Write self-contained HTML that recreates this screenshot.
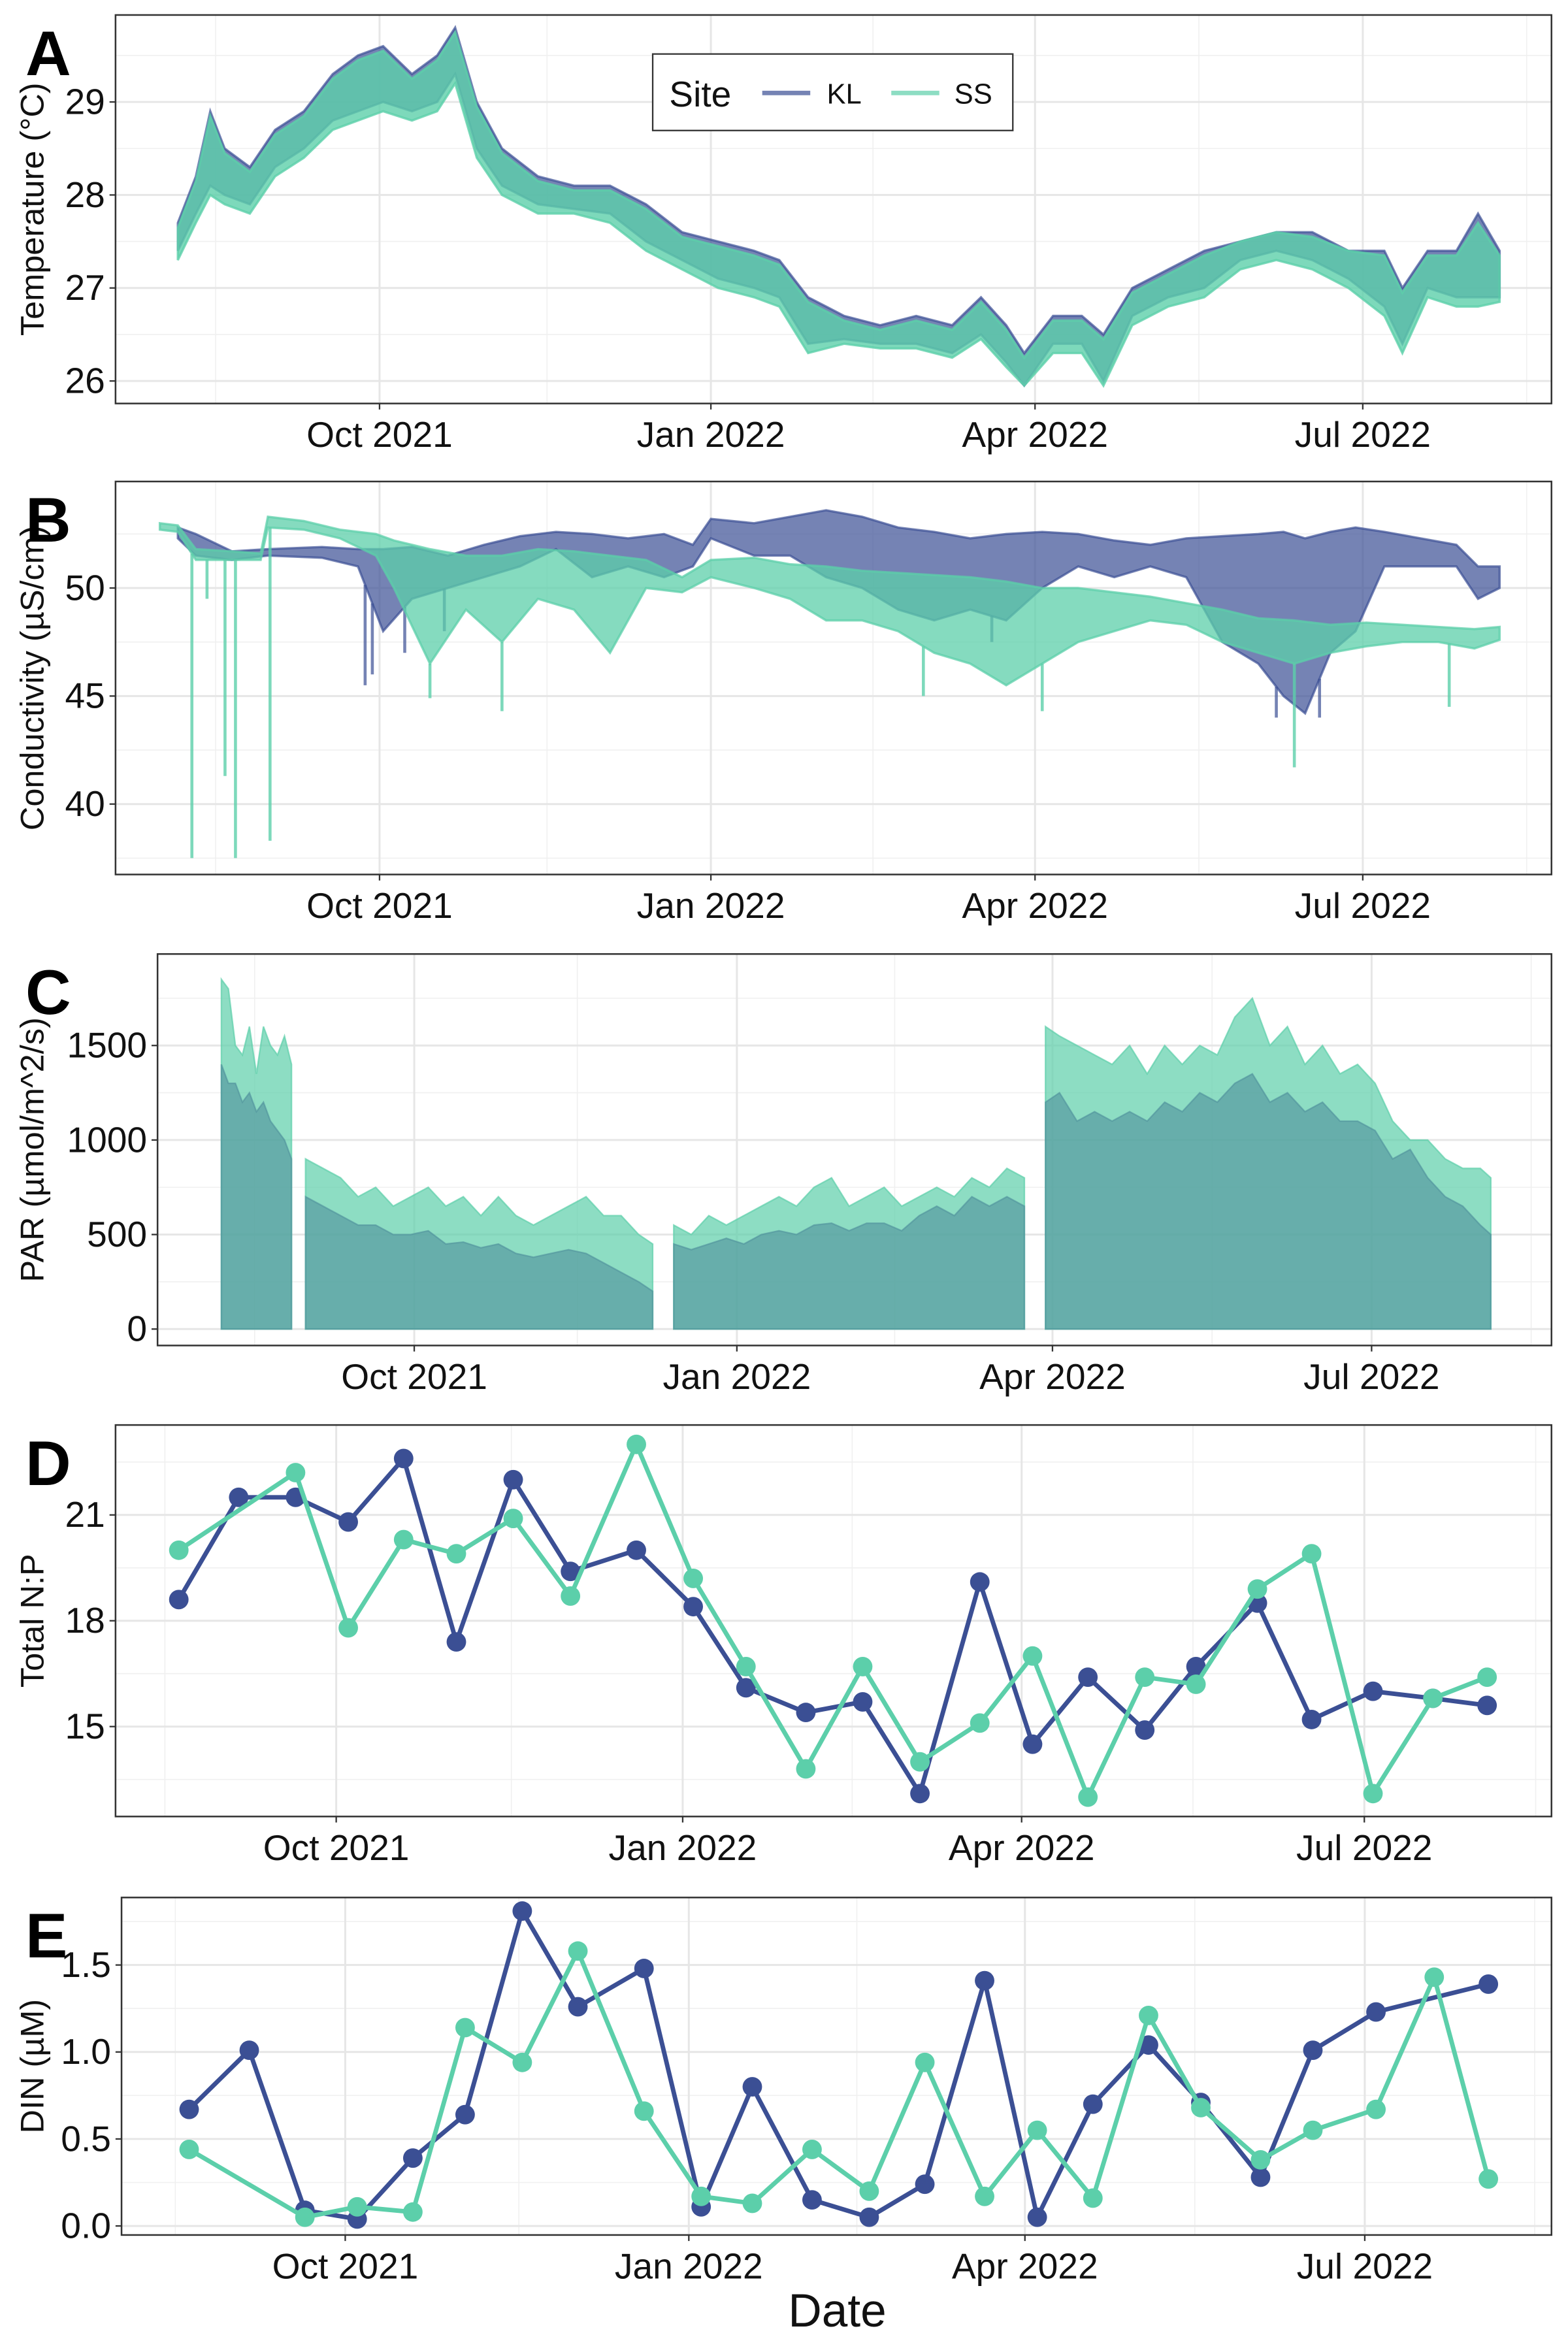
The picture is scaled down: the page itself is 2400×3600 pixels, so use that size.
<!DOCTYPE html>
<html><head><meta charset="utf-8">
<style>
html,body{margin:0;padding:0;background:#fff;}
svg{display:block;}
text{font-family:"Liberation Sans",Arial,sans-serif;}
</style></head>
<body>
<svg id="fig" width="2400" height="3600" viewBox="0 0 1045 1568" preserveAspectRatio="none" xmlns="http://www.w3.org/2000/svg"></svg>
<script>
// ===== Data (days since 2021-08-01) =====
const tempDays = [5,10,14,18,25,32,40,48,55,62,70,77,82,88,95,105,115,125,135,145,155,165,172,180,190,200,210,220,228,235,240,248,256,262,270,280,290,300,310,320,330,340,345,352,360,366,372];
const tempKLHi = [27.7,28.2,28.9,28.5,28.3,28.7,28.9,29.3,29.5,29.6,29.3,29.5,29.8,29.0,28.5,28.2,28.1,28.1,27.9,27.6,27.5,27.4,27.3,26.9,26.7,26.6,26.7,26.6,26.9,26.6,26.3,26.7,26.7,26.5,27.0,27.2,27.4,27.5,27.6,27.6,27.4,27.4,27.0,27.4,27.4,27.8,27.4];
const tempKLLo = [27.4,27.8,28.1,28.0,27.9,28.3,28.5,28.8,28.9,29.0,28.9,29.0,29.3,28.5,28.1,27.9,27.85,27.8,27.5,27.3,27.1,27.0,26.9,26.4,26.45,26.4,26.4,26.3,26.5,26.2,25.95,26.4,26.4,26.0,26.7,26.9,27.0,27.3,27.4,27.3,27.1,26.8,26.4,27.0,26.9,26.9,26.9];
const tempSSHi = [27.65,28.15,28.85,28.45,28.25,28.65,28.85,29.25,29.45,29.55,29.25,29.45,29.75,28.95,28.45,28.15,28.05,28.05,27.85,27.55,27.45,27.35,27.25,26.85,26.65,26.55,26.65,26.55,26.85,26.55,26.25,26.65,26.65,26.45,26.95,27.15,27.35,27.5,27.6,27.55,27.4,27.35,26.95,27.35,27.35,27.7,27.35];
const tempSSLo = [27.3,27.7,28.0,27.9,27.8,28.2,28.4,28.7,28.8,28.9,28.8,28.9,29.2,28.4,28.0,27.8,27.8,27.7,27.4,27.2,27.0,26.9,26.8,26.3,26.4,26.35,26.35,26.25,26.45,26.15,25.95,26.3,26.3,25.95,26.6,26.8,26.9,27.2,27.3,27.2,27.0,26.7,26.3,26.9,26.8,26.8,26.85];
const condKLDays = [5,10,20,30,45,55,62,70,80,90,100,110,120,130,140,148,153,165,175,185,195,205,215,225,235,245,255,265,275,285,295,305,312,318,325,332,340,350,360,366,372];
const condKLHi = [52.8,52.5,51.7,51.8,51.9,51.8,51.8,51.9,51.5,52,52.4,52.6,52.5,52.3,52.5,52,53.2,53,53.3,53.6,53.3,52.8,52.6,52.3,52.5,52.6,52.5,52.2,52,52.3,52.4,52.5,52.6,52.3,52.6,52.8,52.6,52.3,52,51,51];
const condKLLo = [52.3,51.5,51.3,51.5,51.4,51.0,48,49.5,50,50.5,51,51.8,50.5,51,50.5,51,52.3,51.5,51.5,50.5,50,49,48.5,49,48.5,50,51,50.5,51,50.5,47.5,46.5,45,44.2,47,48,51,51,51,49.5,50];
const condKLSpikeDays = [57,59,68,79,231,310,322];
const condKLSpikeVals = [45.5,46,47,48,47.5,44,44];
const condSSDays = [0,5,10,20,28,30,40,50,60,65,75,85,95,105,115,125,135,145,153,165,175,185,195,205,215,225,235,245,255,265,275,285,295,305,315,325,335,345,355,365,372];
const condSSHi = [53,52.9,51.8,51.7,51.6,53.3,53.1,52.7,52.5,52.2,51.8,51.5,51.5,51.8,51.7,51.5,51.3,50.5,51.3,51.4,51.1,51,50.8,50.7,50.6,50.5,50.3,50,50,49.8,49.6,49.3,49,48.6,48.5,48.3,48.4,48.3,48.2,48.1,48.2];
const condSSLo = [52.7,52.6,51.3,51.3,51.3,52.8,52.7,52.3,51.5,50,46.5,49,47.5,49.5,49,47,50,49.8,50.5,50,49.5,48.5,48.5,48,47,46.5,45.5,46.5,47.5,48,48.5,48.3,47.5,47,46.5,47,47.3,47.5,47.5,47.2,47.6];
const condSSSpikeDays = [8.9,13.1,18.1,21,30.6,75,95,212,245,315,358];
const condSSSpikeVals = [37.5,49.5,41.3,37.5,38.3,44.9,44.3,45,44.3,41.7,44.5];
const parSegStart = [6,30,135,241];
const parSegEnd = [26,129,235,368];
const parDays = [6,8,10,12,14,16,18,20,22,24,26, 30,35,40,45,50,55,60,65,70,75,80,85,90,95,100,105,110,115,120,125,129, 135,140,145,150,155,160,165,170,175,180,185,190,195,200,205,210,215,220,225,230,235, 241,245,250,255,260,265,270,275,280,285,290,295,300,305,310,315,320,325,330,335,340,345,350,355,360,365,368];
const parSS = [1850,1800,1500,1450,1600,1350,1600,1500,1450,1550,1400, 900,850,800,700,750,650,700,750,650,700,600,700,600,550,600,650,700,600,600,500,450, 550,500,600,550,600,650,700,650,750,800,650,700,750,650,700,750,700,800,750,850,800, 1600,1550,1500,1450,1400,1500,1350,1500,1400,1500,1450,1650,1750,1500,1600,1400,1500,1350,1400,1300,1100,1000,1000,900,850,850,800];
const parKL = [1400,1300,1300,1200,1250,1150,1200,1100,1050,1000,900, 700,650,600,550,550,500,500,520,450,460,430,450,400,380,400,420,400,350,300,250,200, 450,420,450,480,450,500,520,500,550,560,520,560,560,520,600,650,600,700,650,700,650, 1200,1250,1100,1150,1100,1150,1100,1200,1150,1250,1200,1300,1350,1200,1250,1150,1200,1100,1100,1050,900,950,800,700,650,550,500];
const npDaysKL = [19.2,35.1,50.2,64.2,78.9,92.9,108,123.2,140.7,155.8,169.8,185.7,200.8,216,231.9,245.9,260.6,275.7,289.3,305.6,320,336.3,352.2,366.6];
const npKL = [18.6,21.5,21.5,20.8,22.6,17.4,22.0,19.4,20.0,18.4,16.1,15.4,15.7,13.1,19.1,14.5,16.4,14.9,16.7,18.5,15.2,16.0,15.8,15.6];
const npDaysSS = [19.2,50.2,64.2,78.9,92.9,108,123.2,140.7,155.8,169.8,185.7,200.8,216,231.9,245.9,260.6,275.7,289.3,305.6,320,336.3,352.2,366.6];
const npSS = [20.0,22.2,17.8,20.3,19.9,20.9,18.7,23.0,19.2,16.7,13.8,16.7,14.0,15.1,17.0,13.0,16.4,16.2,18.9,19.9,13.1,15.8,16.4];
const dinDaysKL = [19.2,35.3,50.2,64.2,79.1,93.1,108.4,123.3,141,156.3,170,186,201.3,216.2,232.2,246.3,261.2,276.1,290.1,306.1,320.1,337,367.1];
const dinKL = [0.67,1.01,0.09,0.04,0.39,0.64,1.81,1.26,1.48,0.11,0.80,0.15,0.05,0.24,1.41,0.05,0.70,1.04,0.71,0.28,1.01,1.23,1.39];
const dinDaysSS = [19.2,50.2,64.2,79.1,93.1,108.4,123.3,141,156.3,170,186,201.3,216.2,232.2,246.3,261.2,276.1,290.1,306.1,320.1,337,352.6,367.1];
const dinSS = [0.44,0.05,0.11,0.08,1.14,0.94,1.58,0.66,0.17,0.13,0.44,0.20,0.94,0.17,0.55,0.16,1.21,0.68,0.38,0.55,0.67,1.43,0.27];
const monthLabels = ["Oct 2021","Jan 2022","Apr 2022","Jul 2022"];
const monthDays = [61,153,243,334];
const minorDays = [15.5,107.5,198,288.5,379.5];

const NS="http://www.w3.org/2000/svg";
const svg=document.getElementById('fig');
function mk(tag,attrs,parent){const e=document.createElementNS(NS,tag);for(const k in attrs)e.setAttribute(k,attrs[k]);(parent||svg).appendChild(e);return e;}
const KL="#3b4f94", SS="#5ccfaa";

function panel(cfg){
  const g=mk('g',{});
  
  
  const X=d=>cfg.x0+(d-cfg.d0)/(cfg.d1-cfg.d0)*(cfg.x1-cfg.x0);
  const Y=v=>cfg.y1-(v-cfg.v0)/(cfg.v1-cfg.v0)*(cfg.y1-cfg.y0);
  mk('rect',{x:cfg.x0,y:cfg.y0,width:cfg.x1-cfg.x0,height:cfg.y1-cfg.y0,fill:'#fff'},g);
  minorDays.forEach(d=>{const x=X(d);if(x>cfg.x0&&x<cfg.x1)mk('line',{x1:x,x2:x,y1:cfg.y0,y2:cfg.y1,stroke:'#f0f0f0','stroke-width':0.7},g);});
  cfg.yMinor.forEach(v=>{const y=Y(v);if(y>cfg.y0&&y<cfg.y1)mk('line',{x1:cfg.x0,x2:cfg.x1,y1:y,y2:y,stroke:'#f0f0f0','stroke-width':0.7},g);});
  monthDays.forEach(d=>{const x=X(d);mk('line',{x1:x,x2:x,y1:cfg.y0,y2:cfg.y1,stroke:'#e6e6e6','stroke-width':1.3},g);});
  cfg.yTicks.forEach(v=>{const y=Y(v);mk('line',{x1:cfg.x0,x2:cfg.x1,y1:y,y2:y,stroke:'#e6e6e6','stroke-width':1.3},g);});
  const data=mk('g',{},g);
  
  
  cfg.draw(data,X,Y);
  mk('rect',{x:cfg.x0,y:cfg.y0,width:cfg.x1-cfg.x0,height:cfg.y1-cfg.y0,fill:'none',stroke:'#333','stroke-width':1.1},g);
  monthDays.forEach((d,i)=>{const x=X(d);
    mk('line',{x1:x,x2:x,y1:cfg.y1,y2:cfg.y1+4,stroke:'#333','stroke-width':1},g);
    const t=mk('text',{x:x,y:cfg.y1+29,'text-anchor':'middle','font-size':24,fill:'#111'},g);t.textContent=monthLabels[i];
    
    
  });
  cfg.yTicks.forEach((v,i)=>{const y=Y(v);
    mk('line',{x1:cfg.x0-4,x2:cfg.x0,y1:y,y2:y,stroke:'#333','stroke-width':1},g);
    const t=mk('text',{x:cfg.x0-7,y:y+8,'text-anchor':'end','font-size':24,fill:'#111'},g);t.textContent=cfg.yLabels[i];
    
    
  });
  const cy=(cfg.y0+cfg.y1)/2;
  const tt=mk('text',{x:0,y:0,transform:`translate(${cfg.titleX},${cy}) rotate(-90)`,'text-anchor':'middle','font-size':22,fill:'#111'},g);
  tt.textContent=cfg.title;
  
  
  const L=mk('text',{x:17,y:cfg.y0+40,'font-size':42,'font-weight':'bold',fill:'#000'},g);
  L.textContent=cfg.letter;
  
  
}
function band(g,X,Y,days,hi,lo,color,op){
  let p=days.map((d,i)=>X(d)+','+Y(hi[i])).join(' ')+' '+days.map((d,i)=>X(d)+','+Y(lo[i])).reverse().join(' ');
  return mk('polygon',{points:p,fill:color,'fill-opacity':op,stroke:color,'stroke-opacity':op,'stroke-width':1.5},g);
}
function spikes(g,X,Y,days,vals,base,color,op){
  days.forEach((d,i)=>{const e=mk('line',{x1:X(d),x2:X(d),y1:Y(base(d)),y2:Y(vals[i]),stroke:color,'stroke-opacity':op,'stroke-width':2},g);
    
    });
}
function interp(days,vals,d){for(let i=0;i<days.length-1;i++){if(d>=days[i]&&d<=days[i+1]){const t=(d-days[i])/(days[i+1]-days[i]);return vals[i]+t*(vals[i+1]-vals[i]);}}return d<days[0]?vals[0]:vals[vals.length-1];}
function lineSeries(g,X,Y,days,vals,color,name){
  const pl=mk('polyline',{points:days.map((d,i)=>X(d)+','+Y(vals[i])).join(' '),fill:'none',stroke:color,'stroke-width':3,'stroke-linejoin':'round'},g);
  
  
  days.forEach((d,i)=>{const c=mk('circle',{cx:X(d),cy:Y(vals[i]),r:6.5,fill:color},g);
    
    });
}

panel({name:'temperature-panel',letter:'A',title:'Temperature (°C)',titleX:29,x0:77,x1:1034,y0:10,y1:269,d0:-12.3,d1:386.4,v0:25.758,v1:29.935,
  yTicks:[26,27,28,29],yLabels:['26','27','28','29'],yMinor:[26.5,27.5,28.5,29.5],
  draw:(g,X,Y)=>{
    const a=band(g,X,Y,tempDays,tempKLHi,tempKLLo,KL,0.7);
    const b=band(g,X,Y,tempDays,tempSSHi,tempSSLo,SS,0.8);
  }});
(function(){
  const g=mk('g',{});
  
  
  mk('rect',{x:435,y:36,width:240,height:51,fill:'#fff',stroke:'#333','stroke-width':1},g);
  let t=mk('text',{x:446,y:71,'font-size':24,fill:'#111'},g);t.textContent='Site';
  mk('line',{x1:508,x2:540,y1:62,y2:62,stroke:KL,'stroke-opacity':0.7,'stroke-width':3},g);
  t=mk('text',{x:551,y:69,'font-size':19,fill:'#111'},g);t.textContent='KL';
  
  
  mk('line',{x1:594,x2:626,y1:62,y2:62,stroke:SS,'stroke-opacity':0.7,'stroke-width':3},g);
  t=mk('text',{x:636,y:69,'font-size':19,fill:'#111'},g);t.textContent='SS';
  
  
})();
panel({name:'conductivity-panel',letter:'B',title:'Conductivity (µS/cm)',titleX:29,x0:77,x1:1034,y0:321,y1:583,d0:-12.3,d1:386.4,v0:36.74,v1:54.93,
  yTicks:[40,45,50],yLabels:['40','45','50'],yMinor:[37.5,42.5,47.5,52.5],
  draw:(g,X,Y)=>{
    const a=band(g,X,Y,condKLDays,condKLHi,condKLLo,KL,0.7);
    spikes(g,X,Y,condKLSpikeDays,condKLSpikeVals,d=>interp(condKLDays,condKLLo,d),KL,0.7);
    const b=band(g,X,Y,condSSDays,condSSHi,condSSLo,SS,0.75);
    spikes(g,X,Y,condSSSpikeDays,condSSSpikeVals,d=>interp(condSSDays,condSSLo,d),SS,0.8);
  }});
panel({name:'par-panel',letter:'C',title:'PAR (µmol/m^2/s)',titleX:29,x0:105,x1:1034,y0:636,y1:897,d0:-12.2,d1:385.3,v0:-87,v1:1984,
  yTicks:[0,500,1000,1500],yLabels:['0','500','1000','1500'],yMinor:[250,750,1250,1750],
  draw:(g,X,Y)=>{
    parSegStart.forEach((s,k)=>{
      const e=parSegEnd[k];
      const idx=parDays.map((d,i)=>i).filter(i=>parDays[i]>=s&&parDays[i]<=e);
      const mkArea=(vals,color,op,nm)=>{
        let pts=[X(s)+','+Y(0)];
        idx.forEach(i=>pts.push(X(parDays[i])+','+Y(vals[i])));
        pts.push(X(e)+','+Y(0));
        const p=mk('polygon',{points:pts.join(' '),fill:color,'fill-opacity':op,stroke:color,'stroke-opacity':op,'stroke-width':1},g);
        
        
      };
      mkArea(parSS,SS,0.7,'ss-par');
      mkArea(parKL,'#4f8f9b',0.6,'kl-par');
    });
  }});
panel({name:'np-panel',letter:'D',title:'Total N:P',titleX:29,x0:77,x1:1034,y0:950,y1:1211,d0:2.4,d1:383.7,v0:12.45,v1:23.55,
  yTicks:[15,18,21],yLabels:['15','18','21'],yMinor:[13.5,16.5,19.5,22.5],
  draw:(g,X,Y)=>{lineSeries(g,X,Y,npDaysKL,npKL,KL,'kl-np');lineSeries(g,X,Y,npDaysSS,npSS,SS,'ss-np');}});
panel({name:'din-panel',letter:'E',title:'DIN (µM)',titleX:29,x0:81,x1:1034,y0:1265,y1:1490,d0:1.1,d1:384,v0:-0.052,v1:1.888,
  yTicks:[0,0.5,1.0,1.5],yLabels:['0.0','0.5','1.0','1.5'],yMinor:[0.25,0.75,1.25,1.75],
  draw:(g,X,Y)=>{lineSeries(g,X,Y,dinDaysKL,dinKL,KL,'kl-din');lineSeries(g,X,Y,dinDaysSS,dinSS,SS,'ss-din');}});
const xt=mk('text',{x:558,y:1551,'text-anchor':'middle','font-size':31,fill:'#111'});
xt.textContent='Date';


</script>
</body></html>
